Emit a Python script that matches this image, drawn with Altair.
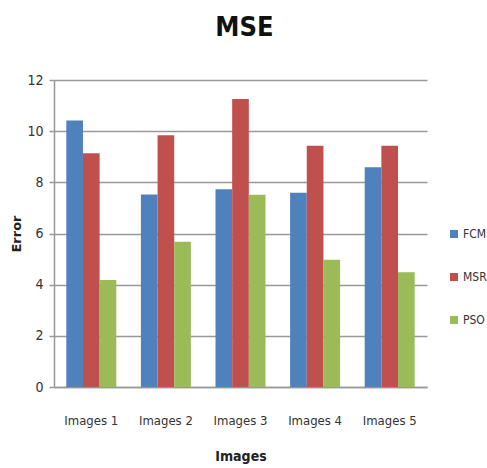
import altair as alt
import pandas as pd

categories = ["Images 1", "Images 2", "Images 3", "Images 4", "Images 5"]
methods = ["FCM", "MSR", "PSO"]
fcm = [10.42, 7.52, 7.73, 7.59, 8.59]
msr = [9.14, 9.84, 11.26, 9.43, 9.43]
pso = [4.18, 5.68, 7.51, 4.97, 4.49]
colors = ["#4F81BD", "#C0504D", "#9BBB59"]

rows = []
for series_name, series in zip(methods, [fcm, msr, pso]):
    for cat, val in zip(categories, series):
        rows.append({"Images": cat, "Method": series_name, "Error": val})
df = pd.DataFrame(rows)

FONT = "DejaVu Sans Condensed, Open Sans"

chart = (
    alt.Chart(df)
    .mark_bar()
    .encode(
        x=alt.X(
            "Images:N",
            sort=categories,
            scale=alt.Scale(paddingInner=0.33, paddingOuter=0.165),
            axis=alt.Axis(
                title="Images",
                labelAngle=0,
                ticks=False,
                grid=False,
                labelPadding=27,
                titlePadding=22,
                labelFontSize=13,
                titleFontSize=14,
                titleFontWeight="bold",
                labelColor="#333333",
                titleColor="#222222",
                domainColor="#999999",
                domainWidth=1.5,
                labelFont=FONT,
                titleFont=FONT,
            ),
        ),
        xOffset=alt.XOffset("Method:N", sort=methods),
        y=alt.Y(
            "Error:Q",
            scale=alt.Scale(domain=[0, 12]),
            axis=alt.Axis(
                title="Error",
                values=[0, 2, 4, 6, 8, 10, 12],
                tickSize=5,
                tickColor="#999999",
                tickWidth=1.5,
                labelPadding=6,
                titlePadding=3,
                labelFontSize=14,
                titleFontSize=13,
                titleFontWeight="bold",
                labelColor="#333333",
                titleColor="#222222",
                gridColor="#999999",
                gridWidth=1.5,
                domainColor="#999999",
                domainWidth=1.5,
                labelFont=FONT,
                titleFont="DejaVu Sans",
            ),
        ),
        color=alt.Color(
            "Method:N",
            sort=methods,
            scale=alt.Scale(domain=methods, range=colors),
            legend=alt.Legend(
                title=None,
                orient="none",
                legendX=394,
                legendY=148,
                padding=0,
                symbolType="square",
                symbolSize=64,
                symbolStrokeWidth=0,
                labelFontSize=12,
                labelFont=FONT,
                labelColor="#333333",
                rowPadding=31,
                labelOffset=3,
            ),
        ),
    )
    .properties(
        width=373,
        height=307,
        background="white",
        title=alt.TitleParams(
            "MSE",
            fontSize=27,
            fontWeight="bold",
            font=FONT,
            color="#111111",
            anchor="middle",
            offset=31,
            dx=4,
        ),
        autosize=alt.AutoSizeParams(type="none"),
        padding={"left": 54, "top": 80, "right": 60, "bottom": 81},
    )
    .configure_view(strokeWidth=0, stroke=None)
)

chart.save("out.html", embed_options={"renderer": "svg", "actions": False})
